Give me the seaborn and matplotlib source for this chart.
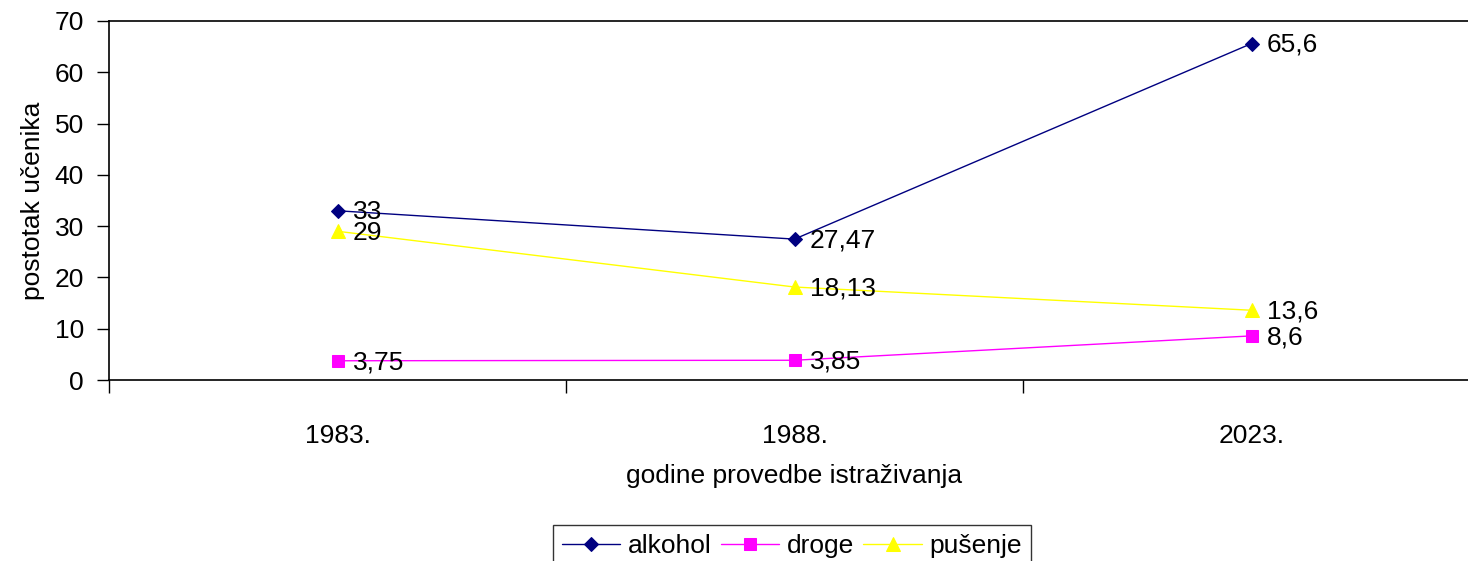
import matplotlib
matplotlib.use('Agg')
import matplotlib.pyplot as plt
import seaborn as sns
import pandas as pd
from matplotlib.ticker import FixedLocator, NullFormatter

# Chart data
years = ['1983.', '1988.', '2023.']
alkohol = [33, 27.47, 65.6]
droge = [3.75, 3.85, 8.6]
pusenje = [29, 18.13, 13.6]
labels_alkohol = ['33', '27,47', '65,6']
labels_droge = ['3,75', '3,85', '8,6']
labels_pusenje = ['29', '18,13', '13,6']
series_names = ['alkohol', 'droge', 'pušenje']

sns.set_style('white')
plt.rcParams['font.family'] = ['Liberation Sans', 'DejaVu Sans']
plt.rcParams['font.size'] = 19
for key in ['text.color', 'axes.labelcolor', 'xtick.color', 'ytick.color']:
    plt.rcParams[key] = 'black'

# Long table for seaborn
rows = []
for name, vals, labs in zip(series_names, [alkohol, droge, pusenje],
                            [labels_alkohol, labels_droge, labels_pusenje]):
    for i, (yr, v, lab) in enumerate(zip(years, vals, labs)):
        rows.append({'x': i, 'year': yr, 'value': v, 'serie': name, 'label': lab})
df = pd.DataFrame(rows)

palette = {'alkohol': '#000080', 'droge': '#FF00FF', 'pušenje': '#FFFF00'}
markers = {'alkohol': 'D', 'droge': 's', 'pušenje': '^'}
msizes = {'alkohol': 7, 'droge': 9, 'pušenje': 10}

fig = plt.figure(figsize=(14.68, 5.61), dpi=100)
ax = fig.add_axes([109 / 1468, 181 / 561, 1371 / 1468, 359 / 561])

for name in series_names:
    sub = df[df['serie'] == name]
    sns.lineplot(data=sub, x='x', y='value', ax=ax, color=palette[name],
                 marker=markers[name], markersize=msizes[name],
                 markeredgecolor=palette[name], linewidth=1, label=name,
                 legend=False)
    for _, r in sub.iterrows():
        ax.annotate(r['label'], (r['x'], r['value']), xytext=(11, -1),
                    textcoords='offset points', va='center', ha='left',
                    fontsize=19, color='black')

ax.set_xlim(-0.5, 2.5)
ax.set_ylim(0, 70)
ax.set_yticks(range(0, 71, 10))
ax.set_xticks([0, 1, 2])
ax.set_xticklabels(years)
ax.xaxis.set_minor_locator(FixedLocator([-0.5, 0.5, 1.5, 2.5]))
ax.xaxis.set_minor_formatter(NullFormatter())
ax.tick_params(axis='x', which='major', length=0, pad=32, labelsize=19)
ax.tick_params(axis='x', which='minor', length=9, width=1, direction='out',
               bottom=True, color='black')
ax.tick_params(axis='y', length=9, width=1, direction='out', left=True,
               color='black', pad=9, labelsize=19)

for s in ax.spines.values():
    s.set_visible(True)
    s.set_color('black')
    s.set_linewidth(1.2)

ax.set_xlabel('godine provedbe istraživanja', fontsize=19)
ax.xaxis.set_label_coords(0.5, -0.235)
ax.set_ylabel('postotak učenika', fontsize=19)
ax.yaxis.set_label_coords(-0.047, 0.5)

handles, lbls = ax.get_legend_handles_labels()
leg = fig.legend(handles, lbls, loc='upper center', ncol=3,
                 bbox_to_anchor=(792 / 1468, 42 / 561 + 0.004),
                 frameon=True, fancybox=False, edgecolor='black',
                 fontsize=19, handlelength=2.2, handletextpad=0.3,
                 columnspacing=0.35, borderpad=0.35, borderaxespad=0.3)
leg.get_frame().set_linewidth(1)

fig.savefig('out.png', dpi=100)
